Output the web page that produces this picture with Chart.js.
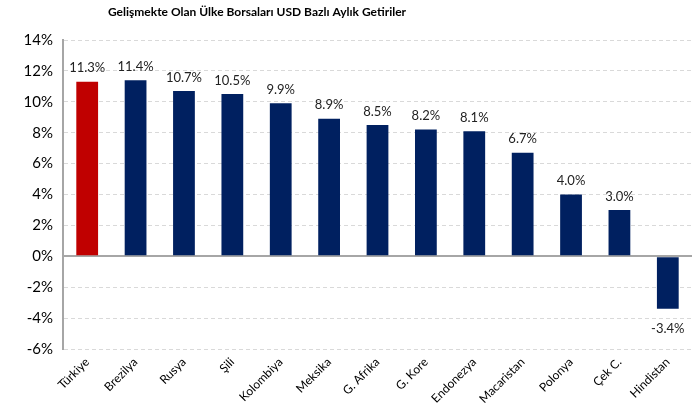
<!DOCTYPE html>
<html>
<head>
<meta charset="utf-8">
<script src="https://cdn.jsdelivr.net/npm/chart.js@4"></script>
<style>
    html, body { margin: 0; padding: 0; background: #fff; }
    #wrap { width: 695px; height: 414px; position: relative; }
</style>
</head>
<body>
<div id="wrap"><canvas id="chart"></canvas></div>
<script>
const chartTitle = 'Gelişmekte Olan Ülke Borsaları USD Bazlı Aylık Getiriler';
const countries = ['Türkiye', 'Brezilya', 'Rusya', 'Şili', 'Kolombiya', 'Meksika', 'G. Afrika',
    'G. Kore', 'Endonezya', 'Macaristan', 'Polonya', 'Çek C.', 'Hindistan'];
const returns = [11.3, 11.4, 10.7, 10.5, 9.9, 8.9, 8.5, 8.2, 8.1, 6.7, 4.0, 3.0, -3.4];
const barColors = ['#C00000', '#002060', '#002060', '#002060', '#002060', '#002060', '#002060',
    '#002060', '#002060', '#002060', '#002060', '#002060', '#002060'];
const yMin = -6;
const yMax = 14;
const yStep = 2;

const FONT = 'Lato, "Open Sans", sans-serif';

// title + value labels above/below each bar
const labelsPlugin = {
    id: 'labels',
    afterDatasetsDraw(chart) {
        const ctx = chart.ctx;
        ctx.save();
        ctx.fillStyle = '#000';
        ctx.font = 'bold 12px ' + FONT;
        ctx.textAlign = 'center';
        ctx.textBaseline = 'middle';
        ctx.fillText(chartTitle, 257, 12);

        ctx.font = '13px ' + FONT;
        ctx.fillStyle = '#222';
        const meta = chart.getDatasetMeta(0);
        meta.data.forEach((bar, i) => {
            const v = returns[i];
            const txt = v.toFixed(1) + '%';
            if (v >= 0) {
                ctx.textBaseline = 'bottom';
                ctx.fillText(txt, bar.x, bar.y - 7);
            } else {
                ctx.textBaseline = 'top';
                ctx.fillText(txt, bar.x, bar.y + 13);
            }
        });
        ctx.restore();
    }
};

const isZero = ctx => ctx.tick && ctx.tick.value === 0;

new Chart(document.getElementById('chart'), {
    type: 'bar',
    data: {
        labels: countries,
        datasets: [{
            data: returns,
            backgroundColor: barColors,
            borderWidth: 0,
            barPercentage: 0.45,
            categoryPercentage: 1
        }]
    },
    options: {
        responsive: true,
        maintainAspectRatio: false,
        animation: false,
        layout: { padding: { top: 40, right: 3, left: 0, bottom: 0 } },
        plugins: {
            legend: { display: false },
            tooltip: { enabled: false }
        },
        scales: {
            x: {
                grid: { display: false, drawTicks: false },
                border: { display: false },
                ticks: {
                    minRotation: 45,
                    maxRotation: 45,
                    color: '#000',
                    padding: 6,
                    font: { family: FONT, size: 12 }
                },
                afterFit(scale) { scale.height = 65; }
            },
            y: {
                min: yMin,
                max: yMax,
                ticks: {
                    stepSize: yStep,
                    color: '#000',
                    padding: 10,
                    font: { family: FONT, size: 15 },
                    callback: v => v + '%'
                },
                grid: {
                    drawTicks: false,
                    color: ctx => isZero(ctx) ? '#a6a6a6' : '#d9d9d9',
                    lineWidth: ctx => isZero(ctx) ? 2 : 1
                },
                border: {
                    color: '#a6a6a6',
                    width: 2,
                    dash: ctx => isZero(ctx) ? [] : [4, 3]
                },
                afterFit(scale) { scale.width = 63; }
            }
        }
    },
    plugins: [labelsPlugin]
});
</script>
</body>
</html>
